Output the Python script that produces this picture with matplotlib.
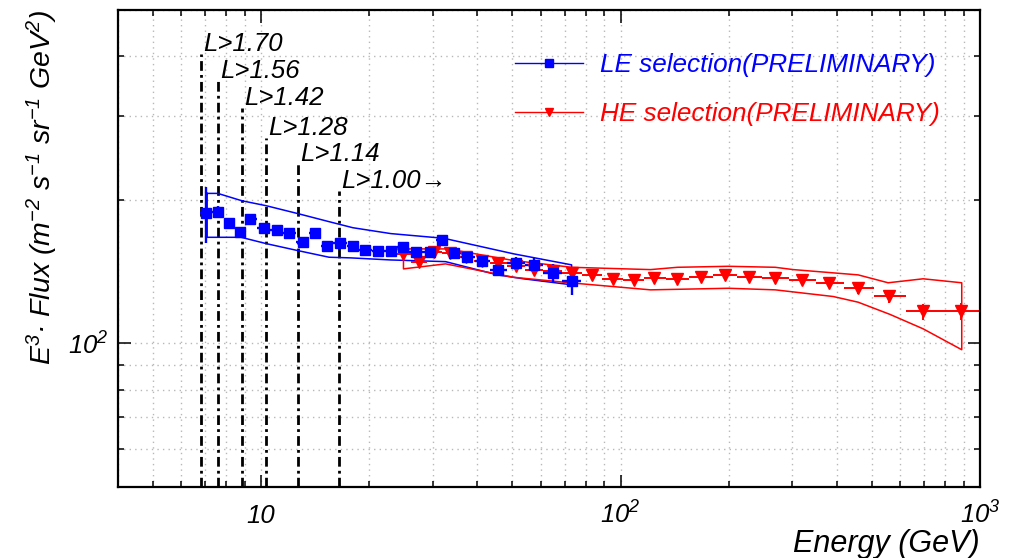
import numpy as np
import matplotlib
matplotlib.use('Agg')
import matplotlib.pyplot as plt
from matplotlib.lines import Line2D
from matplotlib.ticker import FixedLocator, FuncFormatter, NullFormatter, LogLocator

plt.rcParams['font.family'] = ['Liberation Sans', 'DejaVu Sans']
plt.rcParams['font.style'] = 'italic'
plt.rcParams['mathtext.fontset'] = 'custom'
plt.rcParams['mathtext.rm'] = 'Liberation Sans:italic'
plt.rcParams['mathtext.it'] = 'Liberation Sans:italic'
plt.rcParams['mathtext.bf'] = 'Liberation Sans:italic:bold'
plt.rcParams['mathtext.sf'] = 'Liberation Sans:italic'
plt.rcParams['mathtext.default'] = 'regular'

# LE selection (blue squares)
le_energy = [7.03, 7.58, 8.17, 8.74, 9.34, 10.17, 11.06, 11.94, 13.08, 14.13,
             15.22, 16.61, 18.01, 19.45, 21.18, 22.93, 24.75, 27.0, 29.42, 31.83,
             34.47, 37.47, 41.11, 45.67, 51.15, 57.31, 64.73, 73.09]
le_flux = [187.3, 188.6, 179.1, 171.5, 182.0, 174.6, 173.2, 170.7, 163.2, 170.7,
           159.8, 162.1, 160.1, 157.3, 156.0, 156.5, 159.3, 155.2, 155.7, 165.0,
           155.0, 152.1, 149.2, 142.8, 147.2, 146.1, 140.6, 135.4]
le_err = [25, 5.5, 4.5, 4, 4, 3.5, 3.5, 3.5, 3.5, 3.5,
          3.5, 3.5, 3.5, 3.5, 3.5, 3.5, 3.5, 3.5, 3.5, 3.5,
          3.5, 4, 4, 4.5, 4.5, 5, 6, 9]

# LE systematic band
le_band_up_e = [7.08, 7.58, 8.84, 10.33, 12.67, 15.45, 18.0, 22.97, 32.24, 50.4, 73.1]
le_band_up = [206.3, 206.3, 199.1, 194.4, 187.1, 180.0, 174.8, 169.9, 166.1, 154.1, 146.1]
le_band_lo_e = [7.08, 8.80, 10.33, 12.67, 15.45, 17.8, 22.97, 32.6, 45.5, 53.7, 73.1]
le_band_lo = [166.9, 166.9, 161.9, 156.5, 151.6, 151.1, 149.6, 148.4, 139.2, 136.6, 132.7]

# HE selection (red triangles)
he_energy = [24.9, 27.47, 30.33, 33.5, 37.1, 41.1, 45.7, 51.1, 57.3, 64.7,
             73.1, 83.1, 95.0, 108.7, 124.3, 144.0, 167.9, 195.7, 228.2, 269.5,
             320.4, 380.7, 458.3, 558.8, 694.6, 885.6]
he_flux = [154.1, 147.9, 155.2, 154.8, 151.6, 148.7, 147.5, 145.1, 142.8, 141.5,
           140.6, 138.8, 136.6, 135.9, 137.0, 136.6, 138.1, 138.8, 138.1, 137.0,
           136.1, 134.0, 130.5, 125.6, 116.7, 116.7]
he_err = [3, 3, 3, 3, 3, 3, 3, 3, 3, 3,
          3, 3, 3, 3, 3, 3, 3, 3, 3, 3,
          3, 3.5, 3.5, 4, 4.5, 5]

# HE systematic band
he_band_up_e = [24.9, 33.0, 50.4, 73.1, 121.2, 144.0, 199.5, 269.5, 302.5, 458.3, 555.2, 694.6, 889.6]
he_band_up = [157.8, 157.8, 149.2, 144.4, 142.8, 144.4, 145.1, 144.4, 142.8, 139.2, 134.0, 136.6, 134.0]
he_band_lo_e = [24.9, 32.6, 50.4, 73.1, 121.2, 199.5, 269.5, 390.6, 458.3, 562.3, 694.6, 889.6]
he_band_lo = [143.3, 146.8, 137.6, 133.9, 129.5, 130.5, 129.5, 125.4, 122.0, 115.0, 107.3, 97.0]

# rigidity cut thresholds
cut_energy = [6.81, 7.59, 8.86, 10.3, 12.67, 16.47]
cut_top = [404, 355, 312, 270, 238, 209]
cut_labels = ['L>1.70', 'L>1.56', 'L>1.42', 'L>1.28', 'L>1.14', 'L>1.00\u2192']


def bin_halfwidths(e):
    e = np.asarray(e, dtype=float)
    mid = np.sqrt(e[1:] * e[:-1])
    lo = np.r_[e[0] ** 2 / mid[0], mid]
    hi = np.r_[mid, e[-1] ** 2 / mid[-1]]
    return np.vstack([e - lo, hi - e])


def band_outline(up_e, up, lo_e, lo):
    xs = list(up_e) + list(lo_e[::-1]) + [up_e[0]]
    ys = list(up) + list(lo[::-1]) + [up[0]]
    return xs, ys


def log_label(v, pos):
    n = int(round(np.log10(v)))
    if n == 1:
        return '10'
    return r'$10^{%d}$' % n


fig = plt.figure(figsize=(10.17, 5.58), dpi=100)
ax = fig.add_axes([118 / 1017, 71 / 558, 862 / 1017, 477 / 558])
ax.set_xscale('log')
ax.set_yscale('log')
ax.set_xlim(4, 1000)
ax.set_ylim(50, 500)

# grid
ax.grid(True, which='both', color='#b8b8b8', linestyle=(0, (1, 3)), linewidth=1.0)
ax.set_axisbelow(True)

# threshold lines
ax.vlines(cut_energy, 50, cut_top, colors='black', linestyles=(0, (3.5, 1.5, 1, 1.5)), linewidth=2.0)
for e, top, lab in zip(cut_energy, cut_top, cut_labels):
    ax.annotate(lab, (e, top), xytext=(1.5, 2), textcoords='offset points',
                ha='left', va='baseline', fontsize=18.5, color='black')

# bands
bx, by = band_outline(le_band_up_e, le_band_up, le_band_lo_e, le_band_lo)
ax.plot(bx, by, color='blue', linewidth=1.1)
bx, by = band_outline(he_band_up_e, he_band_up, he_band_lo_e, he_band_lo)
ax.plot(bx, by, color='red', linewidth=1.1)

# data points
ax.errorbar(he_energy, he_flux, yerr=he_err, xerr=bin_halfwidths(he_energy),
            fmt='v', color='red', markersize=8.5, elinewidth=1.4, capsize=0, linestyle='none')
ax.errorbar(le_energy, le_flux, yerr=le_err, xerr=bin_halfwidths(le_energy),
            fmt='s', color='blue', markersize=7.5, elinewidth=1.7, capsize=0, linestyle='none')

# ticks
ax.xaxis.set_major_locator(FixedLocator([10, 100, 1000]))
ax.xaxis.set_minor_locator(LogLocator(base=10, subs=np.arange(2, 10)))
ax.yaxis.set_major_locator(FixedLocator([100]))
ax.yaxis.set_minor_locator(LogLocator(base=10, subs=np.arange(2, 10)))
ax.xaxis.set_major_formatter(FuncFormatter(log_label))
ax.yaxis.set_major_formatter(FuncFormatter(log_label))
ax.xaxis.set_minor_formatter(NullFormatter())
ax.yaxis.set_minor_formatter(NullFormatter())
ax.tick_params(which='both', direction='in', top=True, right=True, width=1.1, color='black')
ax.tick_params(which='major', length=9)
ax.tick_params(which='minor', length=4.5)
ax.tick_params(axis='x', which='major', labelsize=18.5, pad=26)
ax.tick_params(axis='y', which='major', labelsize=18.5, pad=7)
for t in ax.get_xticklabels():
    t.set_va('baseline')
for s in ax.spines.values():
    s.set_linewidth(1.6)

# axis titles
fig.text(980 / 1017, 6 / 558, 'Energy (GeV)', ha='right', va='baseline', fontsize=22)
fig.text(42 / 1017, 1 - 10 / 558,
         'E$^{3}$\u00b7 Flux (m$^{-2}$ s$^{-1}$ sr$^{-1}$ GeV$^{2}$)',
         rotation=90, ha='center', va='top', fontsize=20.5)

# legend
handles = [Line2D([], [], color='blue', marker='s', markersize=6, linewidth=1.0),
           Line2D([], [], color='red', marker='v', markersize=6, linewidth=1.0)]
ax.legend(handles, ['LE selection(PRELIMINARY)', 'HE selection(PRELIMINARY)'],
          loc='upper left', bbox_to_anchor=(515 / 1017, 1 - 53 / 558),
          bbox_transform=fig.transFigure, frameon=False, fontsize=18.8,
          borderpad=0, borderaxespad=0, handlelength=2.6, handletextpad=0.65,
          labelspacing=0.95, labelcolor=['blue', 'red'])

fig.savefig('out.png', dpi=100)
